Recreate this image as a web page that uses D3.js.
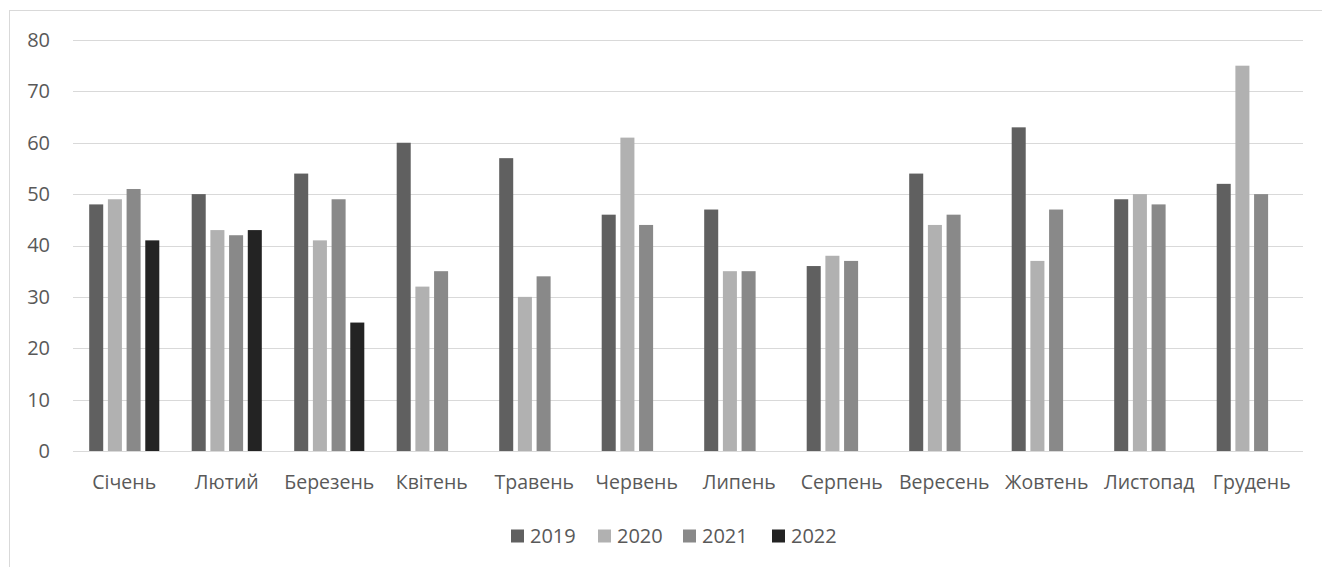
<!DOCTYPE html>
<html>
<head>
<meta charset="utf-8">
<script src="https://cdn.jsdelivr.net/npm/d3@7"></script>
<style>
  html, body { margin: 0; padding: 0; background: #fff; }
  svg { display: block; }
  text { font-family: "Open Sans", "Noto Sans", sans-serif; fill: #595959; }
</style>
</head>
<body>
<svg id="chart" width="1322" height="567"></svg>
<script>
// Monthly values per year
const months = ["Січень", "Лютий", "Березень", "Квітень", "Травень", "Червень",
                "Липень", "Серпень", "Вересень", "Жовтень", "Листопад", "Грудень"];
const years = ["2019", "2020", "2021", "2022"];
const values2019 = [48, 50, 54, 60, 57, 46, 47, 36, 54, 63, 49, 52];
const values2020 = [49, 43, 41, 32, 30, 61, 35, 38, 44, 37, 50, 75];
const values2021 = [51, 42, 49, 35, 34, 44, 35, 37, 46, 47, 48, 50];
const values2022 = [41, 43, 25, null, null, null, null, null, null, null, null, null];
const yTicks = [0, 10, 20, 30, 40, 50, 60, 70, 80];
const colors = ["#606060", "#b1b1b1", "#898989", "#232323"];

const seriesValues = [values2019, values2020, values2021, values2022];

const svg = d3.select("#chart");

// chart frame
svg.append("rect")
  .attr("x", 9.5).attr("y", 10.5)
  .attr("width", 1322).attr("height", 567)
  .attr("fill", "#fff").attr("stroke", "#d9d9d9").attr("stroke-width", 1);

const plot = { left: 73, right: 1303, top: 40, bottom: 451 };

const y = d3.scaleLinear().domain([0, 80]).range([plot.bottom, plot.top]);
const x0 = d3.scaleBand().domain(months).range([plot.left, plot.right]).padding(0);

// bars within each month: width ~14px, step ~18.7px, centred in the band
const groupWidth = x0.bandwidth() * 0.684;
const x1 = d3.scaleBand().domain(years)
  .range([(x0.bandwidth() - groupWidth) / 2, (x0.bandwidth() + groupWidth) / 2])
  .paddingInner(0.25).paddingOuter(0);

// gridlines
svg.append("g").selectAll("line").data(yTicks).join("line")
  .attr("x1", plot.left).attr("x2", plot.right)
  .attr("y1", d => Math.round(y(d)) + 0.5).attr("y2", d => Math.round(y(d)) + 0.5)
  .attr("stroke", "#d9d9d9").attr("stroke-width", 1);

// y-axis labels
const yAxis = d3.axisLeft(y).tickValues(yTicks).tickSize(0).tickPadding(0);
const gy = svg.append("g").attr("transform", `translate(50,0)`).call(yAxis);
gy.select(".domain").remove();
gy.selectAll("text").style("font-size", "20px").attr("fill", "#595959")
  .style("font-family", '"Open Sans", "Noto Sans", sans-serif');

// bars
const rows = months.map((m, i) => ({ month: m, vals: years.map((yr, k) => ({ year: yr, k, v: seriesValues[k][i] })) }));
const groups = svg.append("g").selectAll("g").data(rows).join("g")
  .attr("transform", d => `translate(${x0(d.month)},0)`);
groups.selectAll("rect").data(d => d.vals.filter(e => e.v != null)).join("rect")
  .attr("x", d => x1(d.year))
  .attr("width", x1.bandwidth())
  .attr("y", d => y(d.v))
  .attr("height", d => y(0) - y(d.v))
  .attr("fill", d => colors[d.k]);

// x-axis labels (baseline below the plot)
const xAxis = d3.axisBottom(x0).tickSize(0).tickPadding(0);
const gx = svg.append("g").attr("transform", `translate(0,489)`).call(xAxis);
gx.select(".domain").remove();
gx.selectAll("text").attr("y", 0).attr("dy", 0)
  .style("font-size", "19.5px").attr("fill", "#595959")
  .style("font-family", '"Open Sans", "Noto Sans", sans-serif');

// legend
const legend = svg.append("g");
const itemX = [511, 598, 683, 772];
years.forEach((yr, k) => {
  const g = legend.append("g").attr("transform", `translate(${itemX[k]},536)`);
  g.append("rect").attr("x", 0).attr("y", -6.5).attr("width", 13).attr("height", 13).attr("fill", colors[k]);
  g.append("text").attr("x", 19).attr("y", 0).attr("dy", "0.35em")
    .style("font-size", "20px").text(yr);
});
</script>
</body>
</html>
